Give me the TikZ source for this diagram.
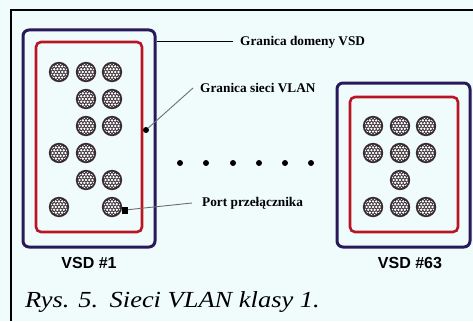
\documentclass[tikz,border=0pt]{standalone}
\usepackage{fontspec}
\setmainfont{Liberation Serif}
\newfontfamily\labsans{Liberation Sans}
\definecolor{bg}{RGB}{240,252,252}
\definecolor{navy}{RGB}{40,25,90}
\definecolor{vlanred}{RGB}{185,20,35}
\definecolor{portdark}{RGB}{55,45,50}
\definecolor{leadgray}{RGB}{110,110,110}
\begin{document}
\begin{tikzpicture}[x=1pt,y=-1pt,
 vsdbox/.style={draw=navy,line width=3pt,rounded corners=6pt,inner sep=0pt},
 vlanbox/.style={draw=vlanred,line width=2.6pt,rounded corners=5pt,inner sep=0pt},
 callout/.style={font=\fontsize{13.3}{14}\selectfont\bfseries,anchor=west,inner sep=0pt},
 vsdlabel/.style={font=\labsans\fontsize{16}{18}\selectfont\bfseries,inner sep=0pt},
 leader/.style={draw=leadgray,line width=0.9pt},
 marker/.style={fill=black,inner sep=0pt},
 port/.pic={
   \fill[portdark] (0,0) circle (10.2);
   \begin{scope}
   \clip (0,0) circle (8.3);
   \foreach \j in {-3,...,3}{
     \foreach \i in {-3,...,3}{
       \fill[white] ({\i*3.2+mod(\j+4,2)*1.6},{\j*2.8}) circle (1.35);
     }}
   \end{scope}
 }]
\fill[bg] (0,0) rectangle (473,321);
\useasboundingbox (0,0) rectangle (473,321);
% frame
\draw[line width=1.6pt,black] (473,10) -- (11,10) -- (11,321);
% boxes
\node[vsdbox,minimum width=132pt,minimum height=217pt] (vsdA) at (89,138.5) {};
\node[vlanbox,minimum width=106pt,minimum height=190pt] (vlanA) at (89,137) {};
\node[vsdbox,minimum width=133pt,minimum height=164pt] (vsdB) at (403.5,165) {};
\node[vlanbox,minimum width=108pt,minimum height=135pt] (vlanB) at (404,164.5) {};
% ports
\foreach \p in {(59,72),(86,72),(112,72),(86,99),(112,99),(86,126),(112,126),(59,153),(86,153),(86,180),(112,180),(59,207),(112,207)}
  \pic at \p {port};
\foreach \p in {(373,126),(400,126),(426,126),(373,153),(400,153),(426,153),(400,180),(373,207),(400,207),(426,207)}
  \pic at \p {port};
% markers
\node[marker,minimum width=6pt,minimum height=7pt] (portmark) at (125,210) {};
\node[marker,circle,minimum size=6pt] (vlanmark) at (146,130) {};
% labels
\node[callout] (lblVSD) at (240,42) {Granica domeny VSD};
\node[callout] (lblVLAN) at (200,88) {Granica sieci VLAN};
\node[callout] (lblPort) at (202,203) {Port przełącznika};
\draw[line width=1pt] (vsdA.east |- lblVSD.west) -- ([xshift=-7pt]lblVSD.west);
\draw[leader] (vlanmark) -- ([xshift=-7pt]lblVLAN.west);
\draw[leader] (portmark) -- ([xshift=-10pt]lblPort.west);
% ellipsis dots
\foreach \x [count=\k] in {180,206,233,259,285,311}
  \node[marker,circle,minimum size=6pt] (dot\k) at (\x,163) {};
% names
\node[vsdlabel] (nameA) at (89,263) {VSD \#1};
\node[vsdlabel] (nameB) at (410,263) {VSD \#63};
% caption
\node[anchor=base west,inner sep=0pt,font=\itshape\fontsize{23}{26}\selectfont] (caption) at (25,307) {\scalebox{1.15}[1]{Rys. 5.\hspace{10pt}Sieci VLAN klasy 1.}};
\end{tikzpicture}
\end{document}
